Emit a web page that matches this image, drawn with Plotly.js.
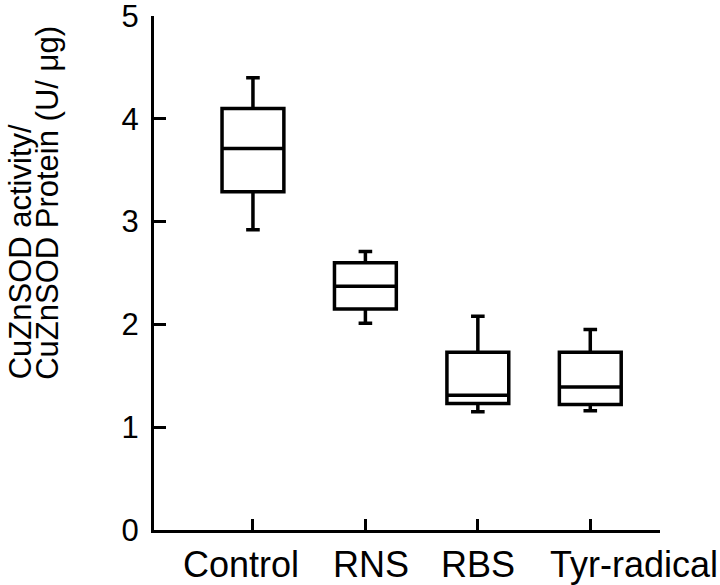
<!DOCTYPE html>
<html>
<head>
<meta charset="utf-8">
<script src="https://cdn.plot.ly/plotly-3.0.1.min.js"></script>
<style>
  body { margin: 0; background: #fff; }
  #sod_plot { width: 720px; height: 585px; }
</style>
</head>
<body>
<div id="sod_plot"></div>
<script>
// values (box = quartiles, whiskers = min/max)
var categories = ['Control', 'RNS', 'RBS', 'Tyr-radical'];
var lowerWhisker = [2.92, 2.01, 1.15, 1.16];
var q1Values = [3.29, 2.15, 1.23, 1.22];
var medianValues = [3.71, 2.37, 1.31, 1.39];
var q3Values = [4.10, 2.60, 1.73, 1.73];
var upperWhisker = [4.40, 2.71, 2.08, 1.95];
var yTickVals = [0, 1, 2, 3, 4, 5];
var titleLines = ['CuZnSOD activity/', 'CuZnSOD Protein (U/ \u03bcg)'];

// label placement (the original labels are not centred on the ticks)
var labelShift = [-12, 6, 0, 44];
var titleShift = [-134, -106];

var fontFamily = '"Liberation Sans", Arial, Helvetica, sans-serif';

var sod_chart = {
    buildData : function(){
        return [{
            type: 'box',
            x: categories,
            q1: q1Values,
            median: medianValues,
            q3: q3Values,
            lowerfence: lowerWhisker,
            upperfence: upperWhisker,
            boxpoints: false,
            width: 0.55,
            whiskerwidth: 0.22,
            fillcolor: '#ffffff',
            line: {color: '#000000', width: 3.5},
            hoverinfo: 'none'
        }];
    },

    buildAnnotations : function(){
        var anns = [];
        for (var i = 0; i < categories.length; i++) {
            anns.push({
                xref: 'x', yref: 'paper',
                x: categories[i], y: 0,
                xanchor: 'center', yanchor: 'top',
                xshift: labelShift[i], yshift: -12,
                text: categories[i], showarrow: false,
                font: {family: fontFamily, size: 36, color: '#000'}
            });
        }
        for (var j = 0; j < titleLines.length; j++) {
            anns.push({
                xref: 'paper', yref: 'paper',
                x: 0, y: 0.298,
                xanchor: 'center', yanchor: 'bottom',
                xshift: titleShift[j], yshift: -5,
                text: titleLines[j], textangle: -90, showarrow: false,
                font: {family: fontFamily, size: 31, color: '#000'}
            });
        }
        return anns;
    },

    draw : function(){
        var layout = {
            width: 720,
            height: 585,
            margin: {l: 154, r: 60, t: 16, b: 55},
            paper_bgcolor: '#ffffff',
            plot_bgcolor: '#ffffff',
            showlegend: false,
            font: {family: fontFamily, color: '#000'},
            xaxis: {
                type: 'category',
                range: [-0.88, 3.62],
                showline: true, linecolor: '#000', linewidth: 3,
                ticks: 'inside', ticklen: 11, tickwidth: 3, tickcolor: '#000',
                showticklabels: false,
                showgrid: false, zeroline: false, fixedrange: true
            },
            yaxis: {
                range: [0, 5],
                tickvals: yTickVals,
                showline: true, linecolor: '#000', linewidth: 3,
                ticks: 'inside', ticklen: 12, tickwidth: 3, tickcolor: '#000',
                tickfont: {family: fontFamily, size: 31, color: '#000'},
                ticklabelstandoff: 6,
                ticklabeloverflow: 'allow',
                showgrid: false, zeroline: false, fixedrange: true
            },
            annotations: sod_chart.buildAnnotations()
        };
        Plotly.newPlot('sod_plot', sod_chart.buildData(), layout, {staticPlot: true, displayModeBar: false});
    }
};

sod_chart.draw();
</script>
</body>
</html>
